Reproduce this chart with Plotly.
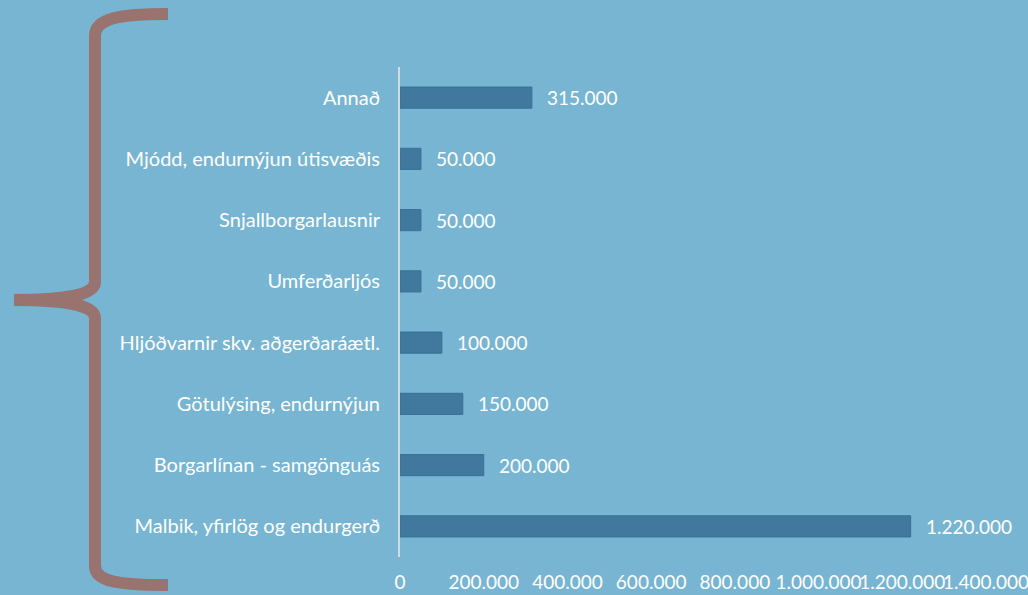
import plotly.graph_objects as go

categories = ["Malbik, yfirlög og endurgerð", "Borgarlínan - samgönguás", "Götulýsing, endurnýjun",
              "Hljóðvarnir skv. aðgerðaráætl.", "Umferðarljós", "Snjallborgarlausnir",
              "Mjódd, endurnýjun útisvæðis", "Annað"]
values = [1220000, 200000, 150000, 100000, 50000, 50000, 50000, 315000]
value_labels = ["1.220.000", "200.000", "150.000", "100.000", "50.000", "50.000", "50.000", "315.000"]
x_tickvals = [0, 200000, 400000, 600000, 800000, 1000000, 1200000, 1400000]
x_ticktext = ["0", "200.000", "400.000", "600.000", "800.000", "1.000.000", "1.200.000", "1.400.000"]

W, H = 1028, 595
ML, MR, MT, MB = 400, 42, 67, 38
PW, PH = W - ML - MR, H - MT - MB

BG = "#77B5D2"
BAR = "#41799E"
FONT = "Lato"
FS = 19

fig = go.Figure(go.Bar(
    x=values, y=categories, orientation="h",
    marker=dict(color=BAR, line=dict(color="#3A7096", width=1)),
    hoverinfo="skip",
))

for c, v, t in zip(categories, values, value_labels):
    fig.add_annotation(x=v, y=c, text=t, showarrow=False, xanchor="left", xshift=13,
                       font=dict(family=FONT, size=FS, color="white"))

def px2paper(x, y):
    return (x - ML) / PW, (H - MB - y) / PH

pts = [(168, 14), (120, 14), (95, 18), (95, 36), (95, 282), (95, 296), (60, 300), (14, 300),
       (60, 300), (95, 304), (95, 318), (95, 566), (95, 582), (120, 585), (168, 585)]
pp = [px2paper(x, y) for x, y in pts]
f = lambda p: f"{p[0]:.5f} {p[1]:.5f}"
path = (f"M {f(pp[0])} C {f(pp[1])}, {f(pp[2])}, {f(pp[3])} L {f(pp[4])} "
        f"C {f(pp[5])}, {f(pp[6])}, {f(pp[7])} C {f(pp[8])}, {f(pp[9])}, {f(pp[10])} "
        f"L {f(pp[11])} C {f(pp[12])}, {f(pp[13])}, {f(pp[14])}")
fig.add_shape(type="path", path=path, xref="paper", yref="paper",
              line=dict(color="#98736F", width=12))

fig.update_layout(
    width=W, height=H,
    margin=dict(l=ML, r=MR, t=MT, b=MB, autoexpand=False),
    paper_bgcolor=BG, plot_bgcolor=BG,
    bargap=0.655,
    showlegend=False,
    font=dict(family=FONT, size=FS, color="white"),
    xaxis=dict(range=[0, 1400000], tickvals=x_tickvals, ticktext=x_ticktext, tickangle=0,
               automargin=False, ticklabeloverflow="allow",
               showgrid=False, zeroline=False, showline=False, ticks="",
               ticklabelstandoff=12, tickfont=dict(family=FONT, size=FS, color="white")),
    yaxis=dict(showgrid=False, zeroline=False, showline=True, linecolor="#D9D9D9", linewidth=2,
               automargin=False,
               ticks="", ticklabelstandoff=14, tickfont=dict(family=FONT, size=20, color="white"),
               categoryorder="array", categoryarray=categories),
)

fig.write_html("out.html", config={"displayModeBar": False},
               post_script="document.body.style.margin='0';document.body.style.overflow='hidden';")
